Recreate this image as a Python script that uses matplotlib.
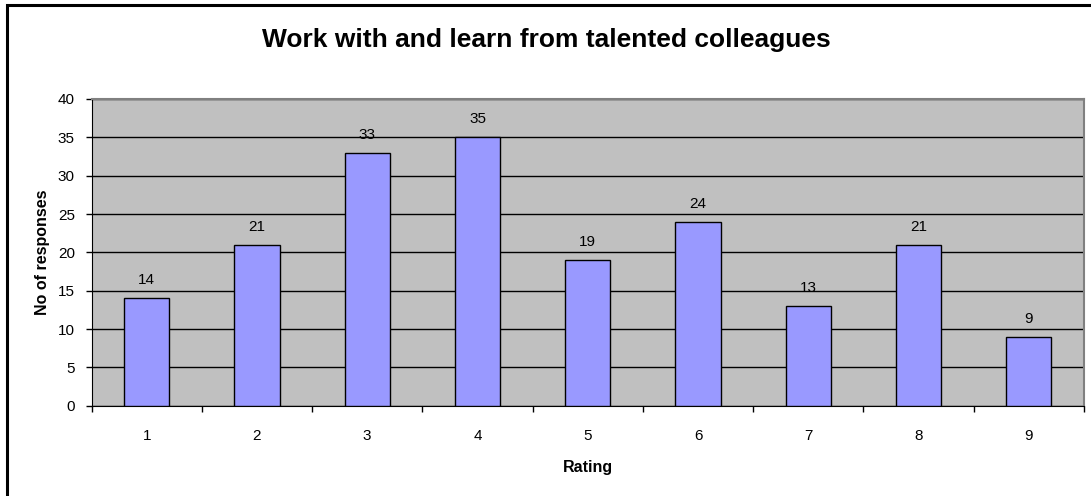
import matplotlib
matplotlib.use("Agg")
import matplotlib.pyplot as plt
from matplotlib.patches import Rectangle

categories = ["1", "2", "3", "4", "5", "6", "7", "8", "9"]
values = [14, 21, 33, 35, 19, 24, 13, 21, 9]
yticks = [0, 5, 10, 15, 20, 25, 30, 35, 40]

plt.rcParams['font.family'] = ['Liberation Sans', 'DejaVu Sans']

fig = plt.figure(figsize=(10.91, 4.96), dpi=100)
fig.patches.append(Rectangle((7/1091, -0.1), 1.2, 1 - 5/496 + 0.1, transform=fig.transFigure,
                             fill=False, edgecolor='black', linewidth=2.2, zorder=0))

ax = fig.add_axes([91.5/1091, 1 - 405.7/496, (1084 - 91.5)/1091, (405.7 - 99)/496])
ax.set_facecolor('#C0C0C0')
x = list(range(len(categories)))
bars = ax.bar(x, values, width=0.41, color='#9999FF', edgecolor='black', linewidth=1.0, zorder=3)
for xi, v in zip(x, values):
    ax.annotate(str(v), (xi, v), xytext=(0, 8), textcoords='offset points',
                ha='center', va='bottom', fontsize=11, zorder=4)

ax.set_xlim(-0.5, len(categories) - 0.5)
ax.set_ylim(0, 40)
ax.set_yticks(yticks)
ax.set_yticklabels([str(t) for t in yticks], fontsize=11)
ax.yaxis.grid(True, color='black', linewidth=1.0, zorder=1)
ax.set_axisbelow(True)

ax.set_xticks(x)
ax.set_xticklabels(categories, fontsize=11)
ax.tick_params(axis='x', length=0, pad=17)
ax.set_xticks([i - 0.5 for i in range(len(categories) + 1)], minor=True)
ax.tick_params(axis='x', which='minor', length=4.5, direction='out', width=1)
ax.tick_params(axis='y', length=4.5, direction='out', width=1, pad=7.5)

for side in ['top', 'right']:
    ax.spines[side].set_color('#808080')
    ax.spines[side].set_linewidth(1.5)
ax.spines['left'].set_color('black')
ax.spines['bottom'].set_color('black')

ax.set_xlabel('Rating', fontsize=11.5, fontweight='bold', labelpad=12)
ax.set_ylabel('No of responses', fontsize=11.5, fontweight='bold', labelpad=6)

fig.text(546/1091, 1 - 46.7/496, 'Work with and learn from talented colleagues',
         ha='center', va='baseline', fontsize=19, fontweight='bold')

fig.savefig('out.png', dpi=100)
